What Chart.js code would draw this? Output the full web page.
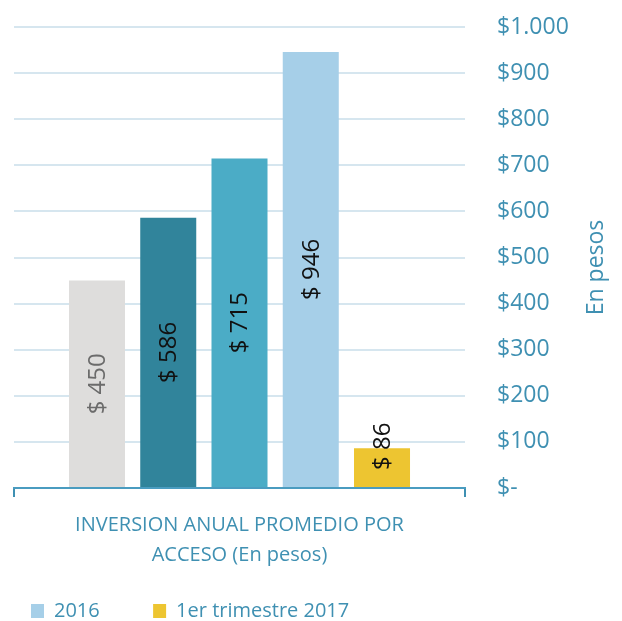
<!DOCTYPE html>
<html>
<head>
<meta charset="utf-8">
<script src="https://cdn.jsdelivr.net/npm/chart.js@4.4.0/dist/chart.umd.min.js"></script>
<style>
  html, body { margin: 0; padding: 0; background: #ffffff; }
  #wrap { width: 622px; height: 621px; }
</style>
</head>
<body>
<div id="wrap"><canvas id="c" width="622" height="621"></canvas></div>
<script>
const categories = [['INVERSION ANUAL PROMEDIO POR', 'ACCESO (En pesos)']];
const seriesNames = ['2013', '2014', '2015', '2016', '1er trimestre 2017'];
const seriesValues = [450, 586, 715, 946, 86];
const seriesColors = ['#dedddc', '#31849b', '#4bacc6', '#a6cfe8', '#edc531'];
const labelColors = ['#6b6b6b', '#111111', '#111111', '#111111', '#111111'];
const legendNames = ['2016', '1er trimestre 2017'];
const yTickValues = [0, 100, 200, 300, 400, 500, 600, 700, 800, 900, 1000];
const yTitle = 'En pesos';

const TEAL = '#3f90b2';
const FONT = "'Open Sans', sans-serif";

function fmtMoney(v) {
  if (v === 0) return '$-';
  return '$' + String(v).replace(/\B(?=(\d{3})+(?!\d))/g, '.');
}

const barLabels = {
  id: 'barLabels',
  afterDatasetsDraw(chart) {
    const ctx = chart.ctx;
    ctx.save();
    ctx.font = '24px ' + FONT;
    ctx.textAlign = 'center';
    ctx.textBaseline = 'middle';
    chart.data.datasets.forEach((ds, i) => {
      const meta = chart.getDatasetMeta(i);
      meta.data.forEach((el, j) => {
        const txt = '$ ' + ds.data[j];
        const w = ctx.measureText(txt).width;
        let cy = (el.y + el.base) / 2;
        if (cy + w / 2 > el.base - 17) cy = el.base - 17 - w / 2;
        ctx.save();
        ctx.translate(el.x, cy);
        ctx.rotate(-Math.PI / 2);
        ctx.fillStyle = labelColors[i];
        ctx.fillText(txt, 0, 1);
        ctx.restore();
      });
    });
    ctx.restore();
  }
};

const rightTitle = {
  id: 'rightTitle',
  afterDraw(chart) {
    const ctx = chart.ctx;
    const ca = chart.chartArea;
    const ys = chart.scales.y;
    ctx.save();
    ctx.font = '23px ' + FONT;
    ctx.fillStyle = TEAL;
    ctx.textAlign = 'center';
    ctx.textBaseline = 'middle';
    ctx.translate(ys.right - 26, (ca.top + ca.bottom) / 2 + 10);
    ctx.rotate(-Math.PI / 2);
    ctx.fillText(yTitle, 0, 0);
    ctx.restore();
  }
};

const datasets = seriesNames.map((name, i) => ({
  label: name,
  data: [seriesValues[i]],
  backgroundColor: seriesColors[i],
  borderWidth: 0,
  barPercentage: 0.786,
  categoryPercentage: 0.79
}));

new Chart(document.getElementById('c'), {
  type: 'bar',
  data: { labels: categories, datasets },
  options: {
    responsive: false,
    animation: false,
    devicePixelRatio: 1,
    layout: { padding: { left: 14, right: 0, top: 27, bottom: -10 } },
    plugins: {
      tooltip: { enabled: false },
      legend: {
        position: 'bottom',
        align: 'start',
        labels: {
          filter: (item) => legendNames.includes(seriesNames[item.datasetIndex]),
          boxWidth: 13,
          boxHeight: 14,
          padding: 17,
          color: TEAL,
          font: { family: FONT, size: 20 },
          generateLabels(chart) {
            const items = Chart.defaults.plugins.legend.labels.generateLabels(chart);
            items.forEach(it => { if (it.text === '2016') it.text = '2016' + '\u00a0'.repeat(7); it.lineWidth = 0; });
            return items;
          }
        }
      }
    },
    scales: {
      x: {
        offset: true,
        afterFit(scale) { scale.height += 1; },
        grid: {
          display: true,
          offset: true,
          drawOnChartArea: false,
          drawTicks: true,
          tickLength: 9,
          color: TEAL,
          lineWidth: 2
        },
        border: { display: true, color: '#4a9cc0', width: 2 },
        ticks: {
          color: TEAL,
          font: { family: FONT, size: 20, lineHeight: 1.5 },
          padding: 13,
          maxRotation: 0,
          autoSkip: false
        }
      },
      y: {
        position: 'right',
        min: 0,
        max: 1000,
        afterFit(scale) { scale.width = 157; scale.paddingTop = 0; scale.paddingBottom = 0; },
        afterBuildTicks(scale) { scale.ticks = yTickValues.map(v => ({ value: v })); },
        grid: {
          color: '#d6e6ef',
          lineWidth: 2,
          drawTicks: false
        },
        border: { display: false },
        ticks: {
          color: TEAL,
          font: { family: FONT, size: 23 },
          padding: 32,
          callback: (v) => fmtMoney(v)
        }
      }
    }
  },
  plugins: [barLabels, rightTitle]
});
</script>
</body>
</html>
